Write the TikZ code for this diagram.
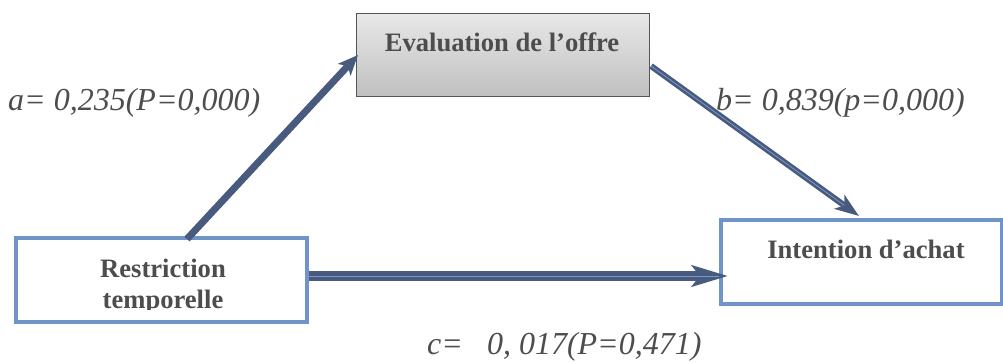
\documentclass[tikz,border=0pt]{standalone}
\usepackage{fontspec}
\setmainfont{Liberation Serif}
\usetikzlibrary{arrows.meta,calc}
\definecolor{arr}{HTML}{485A7E}
\definecolor{hl}{HTML}{7A98CC}
\definecolor{bblue}{HTML}{7094C8}
\definecolor{txt}{HTML}{4D4D4D}
\definecolor{gborder}{HTML}{555555}
\begin{document}
\begin{tikzpicture}[x=1pt,y=-1pt,
  bluebox/.style={draw=bblue,line width=4pt,fill=white,minimum width=#1,minimum height=84pt,inner sep=0pt},
  graybox/.style={draw=gborder,line width=1.5pt,top color=gray!18,bottom color=gray!50,minimum width=293pt,minimum height=83pt,inner sep=0pt},
  boxtext/.style={text=txt,font=\fontsize{26.6}{30}\selectfont\bfseries,inner sep=0pt,anchor=center},
  coef/.style={text=txt,font=\fontsize{32}{36}\selectfont\itshape,inner sep=0pt},
  conn/.style={draw=arr},
  hiline/.style={draw=hl,line width=0.8pt}
]
\useasboundingbox (0,0) rectangle (1003,363);
% boxes
\node[graybox] (eval) at (503,55) {};
\node[boxtext] (evalt) at (502,42) {Evaluation de l’offre};
\node[bluebox=291pt] (restr) at (161.5,280) {};
\begin{scope}
\clip (14,238) rectangle (309,309);
\node[boxtext] (restrt1) at (163,268) {Restriction};
\node[boxtext] (restrt2) at (163,302) {temporelle};
\end{scope}
\node[bluebox=281pt] (intent) at (861.5,262) {};
\node[boxtext] (intentt) at (866,249) {Intention d’achat};
% connector endpoints
\coordinate (aS) at (187,239);
\coordinate (aE) at (358,55);
\coordinate (bS) at (651,66);
\coordinate (bE) at (859,216);
\coordinate (cS) at (309,276);
\coordinate (cE) at (728,276);
\coordinate (bH) at ($(bS)!0.93!(bE)$);
\coordinate (cH) at (719,276);
% connectors
\draw[conn,line width=7pt,-{Stealth[length=20pt,width=17pt,inset=5pt]}] (aS) -- (aE);
\draw[conn,line width=6pt,-{Stealth[length=24pt,width=17pt,inset=6pt]}] (bS) -- (bE);
\draw[hiline] (bS) -- (bH);
\draw[conn,line width=10.5pt,-{Stealth[length=36pt,width=21pt,inset=8pt]}] (cS) -- (cE);
\draw[hiline] (cS) -- (cH);
% labels
\node[coef,anchor=west] (la) at (8,103) {a= 0,235(P=0,000)};
\node[coef,anchor=west] (lb) at (716,103) {b= 0,839(p=0,000)};
\node[coef,anchor=west] (lc) at (427,347) {c=\ \ \ 0, 017(P=0,471)};
\end{tikzpicture}
\end{document}
